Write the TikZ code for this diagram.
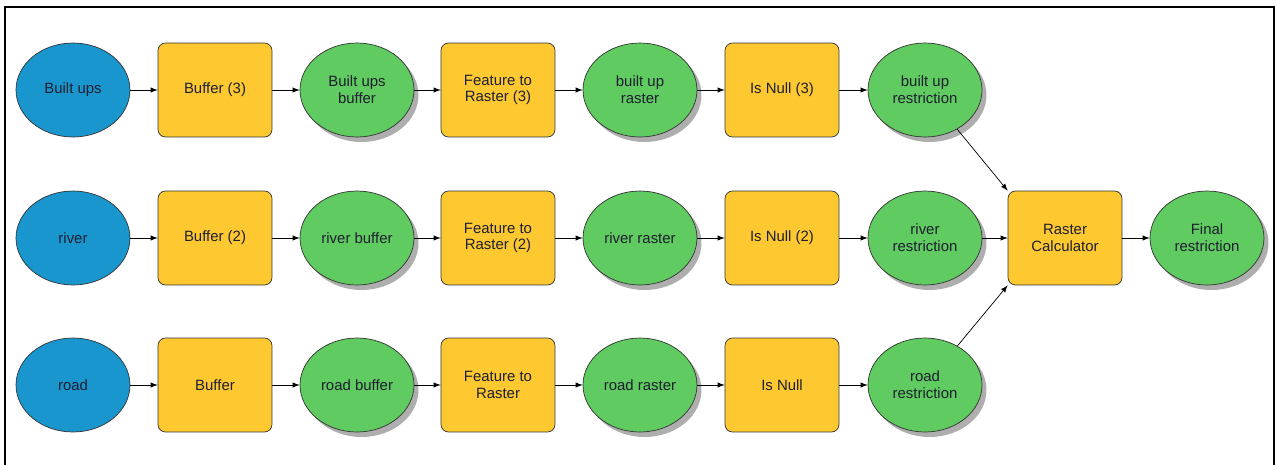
\documentclass[tikz,border=0pt]{standalone}
\usepackage{fontspec}
\setmainfont{Liberation Sans}
\usetikzlibrary{arrows,shapes,positioning,shadows,calc}

\definecolor{inblue}{HTML}{1A96CF}
\definecolor{tooly}{HTML}{FDC830}
\definecolor{outg}{HTML}{5FCB60}
\definecolor{txt}{HTML}{1E1E30}

\tikzset{
  dataIn/.style={ellipse,draw=black!80,thin,fill=inblue,minimum width=2.28cm,
    minimum height=1.88cm,inner sep=0pt,font=\fontsize{8.5}{9.5}\selectfont,
    text=txt,align=center},
  toolbox/.style={rectangle,rounded corners=1.5mm,draw=black!80,thin,fill=tooly,
    minimum width=2.28cm,minimum height=1.88cm,inner sep=0pt,
    font=\fontsize{8.5}{9.5}\selectfont,text=txt,align=center},
  derived/.style={ellipse,draw=black!80,thin,fill=outg,minimum width=2.28cm,
    minimum height=1.88cm,inner sep=0pt,font=\fontsize{8.5}{9.5}\selectfont,
    text=txt,align=center,
    drop shadow={shadow xshift=0.9mm,shadow yshift=-1mm,fill=black!45,opacity=0.7}},
  flow/.style={-latex,thin,black}
}

\begin{document}
\begin{tikzpicture}[x=0.02cm,y=-0.02cm]
  \clip (0,0) rectangle (1276,464);
  \useasboundingbox (0,0) rectangle (1276,464);
  % Frame
  \draw[line width=1.2pt] (5,7) rectangle (1274,480);

  % Inputs
  \node[dataIn] (bu) at (73,90) {Built ups};
  \node[dataIn] (ri) at (73,238) {river};
  \node[dataIn] (ro) at (73,385) {road};

  % Buffer tools
  \node[toolbox] (buf3) at (215,90) {Buffer (3)};
  \node[toolbox] (buf2) at (215,238) {Buffer (2)};
  \node[toolbox] (buf1) at (215,385) {Buffer};

  % Buffer outputs
  \node[derived] (bub) at (357,90) {Built ups\\buffer};
  \node[derived] (rib) at (357,238) {river buffer};
  \node[derived] (rob) at (357,385) {road buffer};

  % Feature to Raster tools
  \node[toolbox] (ftr3) at (498,90) {Feature to\\Raster (3)};
  \node[toolbox] (ftr2) at (498,238) {Feature to\\Raster (2)};
  \node[toolbox] (ftr1) at (498,385) {Feature to\\Raster};

  % Rasters
  \node[derived] (bur) at (640,90) {built up\\raster};
  \node[derived] (rir) at (640,238) {river raster};
  \node[derived] (ror) at (640,385) {road raster};

  % Is Null tools
  \node[toolbox] (isn3) at (782,90) {Is Null (3)};
  \node[toolbox] (isn2) at (782,238) {Is Null (2)};
  \node[toolbox] (isn1) at (782,385) {Is Null};

  % Restrictions
  \node[derived] (bures) at (925,90) {built up\\restriction};
  \node[derived] (rires) at (925,238) {river\\restriction};
  \node[derived] (rores) at (925,385) {road\\restriction};

  % Combination
  \node[toolbox] (calc) at (1065,238) {Raster\\Calculator};
  \node[derived] (final) at (1207,238) {Final\\restriction};

  % Connections
  \foreach \a/\b in {bu/buf3,buf3/bub,bub/ftr3,ftr3/bur,bur/isn3,isn3/bures,
                     ri/buf2,buf2/rib,rib/ftr2,ftr2/rir,rir/isn2,isn2/rires,
                     ro/buf1,buf1/rob,rob/ftr1,ftr1/ror,ror/isn1,isn1/rores,
                     rires/calc,calc/final} {
    \draw[flow] (\a) -- (\b);
  }
  \draw[flow] (bures) -- (calc.north west);
  \draw[flow] (rores) -- (calc.south west);
\end{tikzpicture}
\end{document}
